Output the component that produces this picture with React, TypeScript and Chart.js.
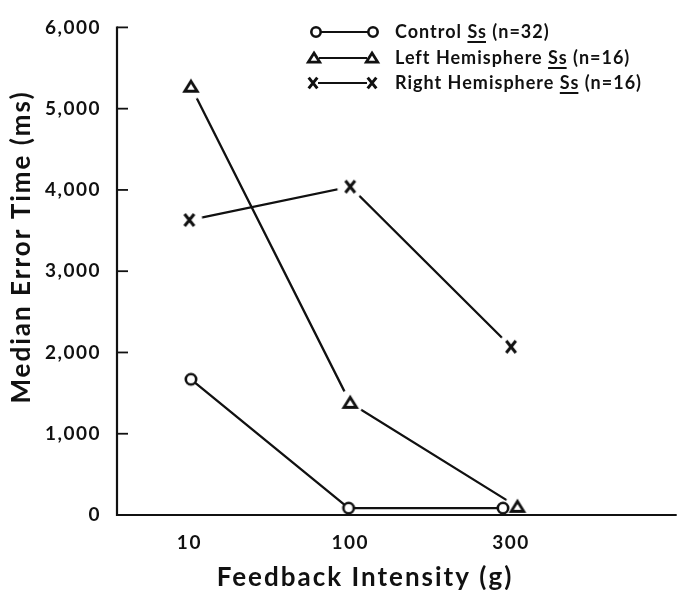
import React, { useEffect, useRef } from 'react';
import { Chart, registerables } from 'chart.js';

Chart.register(...registerables);

// ---- data ----
const categories = ['10', '100', '300'];
const categoryPositions = [1, 2, 3];
const controlX = [1.01, 1.99, 2.95];
const leftX = [1.01, 2.0, 3.04];
const rightX = [1.0, 2.0, 3.0];
const controlValues = [1670, 85, 85];
const leftValues = [5270, 1380, 100];
const rightValues = [3630, 4040, 2070];
const yTickValues = [0, 1000, 2000, 3000, 4000, 5000, 6000];
const legendParts = [
  ['Control ', 'Ss', ' (n=32)'],
  ['Left Hemisphere ', 'Ss', ' (n=16)'],
  ['Right Hemisphere ', 'Ss', ' (n=16)'],
];
const xTitle = 'Feedback Intensity (g)';
const yTitle = 'Median Error Time (ms)';

const FONT = 'Lato, "DejaVu Sans", sans-serif';
const INK = '#111';

type Kind = 'circle' | 'triangle' | 'cross';

function drawGlyph(ctx: CanvasRenderingContext2D, kind: Kind, cx: number, cy: number, s = 1) {
  ctx.save();
  ctx.strokeStyle = INK;
  ctx.fillStyle = '#fff';
  ctx.lineJoin = 'miter';
  if (kind === 'circle') {
    ctx.lineWidth = 2.6;
    ctx.beginPath();
    ctx.arc(cx, cy, 5.2 * s, 0, Math.PI * 2);
    ctx.fill();
    ctx.stroke();
  } else if (kind === 'triangle') {
    ctx.lineWidth = 2.8;
    ctx.beginPath();
    ctx.moveTo(cx, cy - 5.5 * s);
    ctx.lineTo(cx + 6.3 * s, cy + 4.5 * s);
    ctx.lineTo(cx - 6.3 * s, cy + 4.5 * s);
    ctx.closePath();
    ctx.fill();
    ctx.stroke();
  } else {
    ctx.lineWidth = 3;
    ctx.beginPath();
    ctx.moveTo(cx - 4.8 * s, cy - 6 * s);
    ctx.lineTo(cx + 4.8 * s, cy + 6 * s);
    ctx.moveTo(cx + 4.8 * s, cy - 6 * s);
    ctx.lineTo(cx - 4.8 * s, cy + 6 * s);
    ctx.stroke();
  }
  ctx.restore();
}

function makeMarker(kind: Kind, halo: number): HTMLCanvasElement {
  const c = document.createElement('canvas');
  c.width = 30;
  c.height = 30;
  const ctx = c.getContext('2d')!;
  if (halo > 0) {
    ctx.fillStyle = '#fff';
    ctx.beginPath();
    ctx.arc(15, 15, halo, 0, Math.PI * 2);
    ctx.fill();
  }
  drawGlyph(ctx, kind, 15, 15);
  return c;
}

const decorPlugin = {
  id: 'decor',
  beforeDraw(chart: any) {
    (chart.ctx as any).letterSpacing = '1.5px';
  },
  afterDraw(chart: any) {
    const ctx: CanvasRenderingContext2D = chart.ctx;
    const { left, right, top, bottom } = chart.chartArea;
    const yScale = chart.scales.y;
    ctx.save();
    // axes
    ctx.strokeStyle = INK;
    ctx.lineWidth = 2.2;
    ctx.beginPath();
    ctx.moveTo(left, top - 1);
    ctx.lineTo(left, bottom);
    ctx.lineTo(right, bottom);
    ctx.stroke();
    // inner ticks
    ctx.lineWidth = 1.8;
    yTickValues.forEach((v) => {
      if (v === 0) return;
      const py = yScale.getPixelForValue(v);
      ctx.beginPath();
      ctx.moveTo(left, py);
      ctx.lineTo(left + 11, py);
      ctx.stroke();
    });
    // titles
    ctx.fillStyle = INK;
    (ctx as any).letterSpacing = '2px';
    ctx.font = `bold 26px ${FONT}`;
    ctx.textAlign = 'center';
    ctx.textBaseline = 'middle';
    ctx.fillText(xTitle, 365, 578);
    ctx.save();
    ctx.translate(22, 247);
    ctx.rotate(-Math.PI / 2);
    ctx.fillText(yTitle, 0, 0);
    ctx.restore();
    // legend
    const kinds: Kind[] = ['circle', 'triangle', 'cross'];
    const rowsY = [32, 58, 83];
    const m1 = [316, 314, 313];
    const m2 = [373, 372, 372];
    (ctx as any).letterSpacing = '1px';
    ctx.font = `bold 18px ${FONT}`;
    ctx.textAlign = 'left';
    ctx.textBaseline = 'middle';
    legendParts.forEach((parts, i) => {
      const y = rowsY[i];
      ctx.strokeStyle = INK;
      ctx.lineWidth = 2.2;
      ctx.beginPath();
      ctx.moveTo(m1[i] + 5, y);
      ctx.lineTo(m2[i] - 5, y);
      ctx.stroke();
      drawGlyph(ctx, kinds[i], m1[i], y, 0.9);
      drawGlyph(ctx, kinds[i], m2[i], y, 0.9);
      let x = 395;
      parts.forEach((p, j) => {
        ctx.fillStyle = INK;
        ctx.fillText(p, x, y);
        const w = ctx.measureText(p).width;
        if (j === 1) {
          ctx.lineWidth = 2;
          ctx.beginPath();
          ctx.moveTo(x, y + 10);
          ctx.lineTo(x + w - 1, y + 10);
          ctx.stroke();
        }
        x += w;
      });
    });
    (ctx as any).letterSpacing = '0px';
    ctx.restore();
  },
};

export default function App() {
  const ref = useRef<HTMLCanvasElement | null>(null);
  useEffect(() => {
    document.body.style.margin = '0';
    const canvas = ref.current!;
    const mk = (xs: number[], ys: number[]) => xs.map((x, i) => ({ x, y: ys[i] }));
    const chart = new Chart(canvas, {
      type: 'scatter',
      data: {
        datasets: [
          {
            label: 'Control Ss (n=32)',
            data: mk(controlX, controlValues),
            showLine: true,
            borderColor: INK,
            borderWidth: 2.3,
            pointStyle: makeMarker('circle', 0) as any,
            pointRadius: 7,
            order: 0,
          },
          {
            label: 'Left Hemisphere Ss (n=16)',
            data: mk(leftX, leftValues),
            showLine: true,
            borderColor: INK,
            borderWidth: 2.3,
            pointStyle: makeMarker('triangle', 13) as any,
            pointRadius: 7,
            order: 1,
          },
          {
            label: 'Right Hemisphere Ss (n=16)',
            data: mk(rightX, rightValues),
            showLine: true,
            borderColor: INK,
            borderWidth: 2.3,
            pointStyle: makeMarker('cross', 13) as any,
            pointRadius: 7,
            order: 2,
          },
        ],
      },
      options: {
        animation: false,
        responsive: false,
        layout: { padding: { top: 23, left: 0, right: 0, bottom: 0 } },
        plugins: { legend: { display: false }, tooltip: { enabled: false } },
        scales: {
          x: {
            type: 'linear',
            min: 0.55,
            max: 4.03,
            grid: { display: false, drawTicks: false },
            border: { display: false },
            afterBuildTicks: (scale: any) => {
              scale.ticks = categoryPositions.map((v) => ({ value: v }));
            },
            afterFit: (scale: any) => {
              scale.height = 75;
            },
            ticks: {
              color: INK,
              padding: 16,
              maxRotation: 0,
              font: { family: FONT, size: 19, weight: 'bold' },
              callback: (v: any) => {
                const i = categoryPositions.indexOf(Number(v));
                return i >= 0 ? categories[i] : '';
              },
            },
          },
          y: {
            type: 'linear',
            min: 0,
            max: 6000,
            grid: { display: false, drawTicks: false },
            border: { display: false },
            afterBuildTicks: (scale: any) => {
              scale.ticks = yTickValues.map((v) => ({ value: v }));
            },
            afterFit: (scale: any) => {
              scale.width = 117;
            },
            ticks: {
              color: INK,
              padding: 16,
              font: { family: FONT, size: 19, weight: 'bold' },
              callback: (v: any) => Number(v).toLocaleString('en-US'),
            },
          },
        },
      },
      plugins: [decorPlugin],
    });
    return () => chart.destroy();
  }, []);
  return (
    <div style={{ width: 686, height: 590 }}>
      <canvas ref={ref} width={686} height={590} />
    </div>
  );
}
